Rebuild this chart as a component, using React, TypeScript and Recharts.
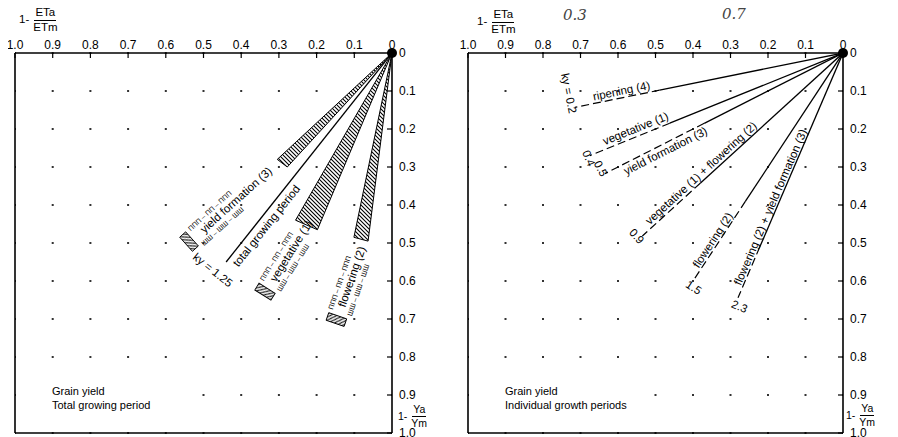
import React from 'react';
import {
  ComposedChart, XAxis, YAxis, CartesianGrid, Line, Scatter, ReferenceDot, ReferenceArea,
} from 'recharts';

const FONT = '"Liberation Sans", Arial, sans-serif';

// both panels: 1 - ETa/ETm (x) and 1 - Ya/Ym (y), 0 .. 1
const axisTicks = [0, 0.1, 0.2, 0.3, 0.4, 0.5, 0.6, 0.7, 0.8, 0.9, 1.0];

// left panel - total growing period line
const totalKy = 1.25;
const totalEndX = 0.44;

// left panel - hatched wedges (range of ky for each period)
const wedgeNames = ['yield formation (3)', 'vegetative (1)', 'flowering (2)'];
const wedgeKyLow = [0.92, 1.72, 4.8];
const wedgeKyHigh = [1.08, 2.35, 7.8];
const wedgeEndYLow = [0.28, 0.44, 0.485];
const wedgeEndYHigh = [0.3, 0.465, 0.495];

// right panel - individual growth periods
const periodNames = [
  'ripening (4)',
  'vegetative (1)',
  'yield formation (3)',
  'vegetative (1) + flowering (2)',
  'flowering (2)',
  'flowering (2) + yield formation (3)',
];
const periodKy = [0.2, 0.4, 0.5, 0.9, 1.5, 2.3];
const periodKyText = ['ky = 0.2', '0.4', '0.5', '0.9', '1.5', '2.3'];
const periodSolidToX = [0.489, 0.462, 0.37, 0.38, 0.26, 0.222];
const periodEndX = [0.715, 0.675, 0.635, 0.535, 0.4, 0.28];

// label placement (data units / px offsets)
const wedgeLabelAt = [
  { x: 0.414, y: 0.387, angle: 42 },
  { x: 0.268, y: 0.521, angle: 58 },
  { x: 0.107, y: 0.589, angle: 71 },
];
const totalLabelAtX = 0.352;
const totalKyLabelAt = { x: 0.475, y: 0.571 };
const periodLabelAtX = [0.587, 0.545, 0.482, 0.366, 0.334, 0.179];
const periodLabelOff = [-7, -8, 7, -7, -6, -6];
const periodKyLabelAt = [
  { x: 0.731, y: 0.106 },
  { x: 0.678, y: 0.277 },
  { x: 0.646, y: 0.304 },
  { x: 0.55, y: 0.482 },
  { x: 0.398, y: 0.617 },
  { x: 0.276, y: 0.667 },
];

const W = 449;
const H = 437;
const TOP = 53;
const BOTTOM = 433;
const PH = BOTTOM - TOP;
const L_LEFT = 15, L_RIGHT = 392;
const R_LEFT = 19, R_RIGHT = 394;

const deg = (ky: number, pw: number) => (Math.atan((ky * PH) / pw) * 180) / Math.PI;
const fmt = (v: number) => (v === 0 ? '0' : v.toFixed(1));

const NoDot = () => <g />;

// the scatter "line" gets the points in pixels -> draw them as a closed hatched wedge
const WedgePoly = (p: any) => {
  const pts = (p.points || []).map((q: any) => `${q.x},${q.y}`).join(' ');
  return <polygon points={pts} fill="url(#hatchL)" stroke="#000" strokeWidth={1} strokeLinejoin="round" />;
};

const AlongLabel = (p: any) => {
  const { cx, cy, payload } = p;
  if (cx == null || cy == null) return null;
  return (
    <text
      transform={`translate(${cx},${cy}) rotate(${payload.rot})`}
      x={0}
      y={payload.off}
      textAnchor="middle"
      dominantBaseline="central"
      fontSize={payload.fs || 11.5}
      fontFamily={FONT}
      fill="#000"
    >
      {payload.text}
    </text>
  );
};

const WedgeLabel = (p: any) => {
  const { cx, cy, payload } = p;
  if (cx == null || cy == null) return null;
  const fs = 11.5;
  const w = payload.text.length * fs * 0.5;
  return (
    <g transform={`translate(${cx},${cy}) rotate(${-payload.angle})`} fontFamily={FONT} fill="#000">
      <rect x={-w / 2 - 12} y={-10} width={8} height={19} fill="url(#hatchL)" stroke="#000" strokeWidth={0.9} />
      <text x={0} y={0} textAnchor="middle" dominantBaseline="central" fontSize={fs}>
        {payload.text}
      </text>
      <text x={-w / 2} y={-7} fontSize={7}>ΠΠΠ – ΠΠ – ΠΠΠ</text>
      <text x={-w / 2} y={13} fontSize={7}>ШШ – ШШ – ШШ</text>
    </g>
  );
};

function Panel(props: { left: number; right: number; pid: string; children: React.ReactNode }) {
  const { left, right, pid, children } = props;
  const step = (right - left) / 10;
  return (
    <ComposedChart
      width={W}
      height={H}
      margin={{ top: TOP - 20, left: left - 1, right: W - right - 40, bottom: H - BOTTOM - 1 }}
    >
      <defs>
        <pattern id={pid} width={4} height={4} patternUnits="userSpaceOnUse">
          <rect width={4} height={4} fill="#fff" />
          <path d="M-1,3 L1,5 M0,0 L4,4 M3,-1 L5,1" stroke="#000" strokeWidth={1.1} />
        </pattern>
      </defs>
      <CartesianGrid
        vertical={false}
        stroke="#333"
        strokeWidth={2}
        strokeDasharray={`2 ${step - 2}`}
        strokeDashoffset={1}
      />
      <XAxis
        dataKey="x"
        type="number"
        domain={[0, 1]}
        reversed
        ticks={axisTicks}
        interval={0}
        orientation="top"
        height={20}
        tickSize={-5}
        tickMargin={9}
        tickFormatter={fmt}
        stroke="#000"
        axisLine={{ stroke: '#000', strokeWidth: 1.6 }}
        tickLine={{ stroke: '#000', strokeWidth: 1.2 }}
        tick={{ fontSize: 12, fill: '#000', fontFamily: FONT }}
        allowDataOverflow
      />
      <XAxis
        xAxisId="b"
        type="number"
        domain={[0, 1]}
        reversed
        ticks={axisTicks}
        interval={0}
        orientation="bottom"
        height={1}
        tickSize={-5}
        tick={false}
        stroke="#000"
        axisLine={{ stroke: '#000', strokeWidth: 1.6 }}
        tickLine={{ stroke: '#000', strokeWidth: 1.2 }}
      />
      <YAxis
        dataKey="y"
        type="number"
        domain={[0, 1]}
        reversed
        ticks={axisTicks}
        interval={0}
        orientation="right"
        width={40}
        tickSize={-5}
        tickMargin={12}
        tickFormatter={fmt}
        stroke="#000"
        axisLine={{ stroke: '#000', strokeWidth: 1.6 }}
        tickLine={{ stroke: '#000', strokeWidth: 1.2 }}
        tick={{ fontSize: 12, fill: '#000', fontFamily: FONT }}
        allowDataOverflow
      />
      <YAxis
        yAxisId="l"
        type="number"
        domain={[0, 1]}
        reversed
        ticks={axisTicks}
        interval={0}
        orientation="left"
        width={1}
        tickSize={-5}
        tick={false}
        stroke="#000"
        axisLine={{ stroke: '#000', strokeWidth: 1.6 }}
        tickLine={{ stroke: '#000', strokeWidth: 1.2 }}
      />
      <ReferenceArea x1={0.97} x2={0.55} y1={0.86} y2={0.96} fill="#fff" fillOpacity={1} stroke="none" />
      {children}
      <ReferenceDot x={0} y={0} r={5} fill="#000" stroke="none" ifOverflow="visible" />
    </ComposedChart>
  );
}

const Frac = (p: { num: string; den: string; left: number; top: number; fs?: number }) => (
  <div
    style={{
      position: 'absolute', left: p.left, top: p.top, display: 'flex', alignItems: 'center',
      fontFamily: FONT, fontSize: p.fs || 11, color: '#000', lineHeight: 1,
    }}
  >
    <span style={{ marginRight: 4 }}>1-</span>
    <span style={{ display: 'inline-flex', flexDirection: 'column', alignItems: 'center' }}>
      <span style={{ borderBottom: '1.3px solid #000', padding: '0 1px 1px' }}>{p.num}</span>
      <span style={{ paddingTop: 1 }}>{p.den}</span>
    </span>
  </div>
);

const Caption = (p: { lines: string[]; left: number; top: number }) => (
  <div style={{ position: 'absolute', left: p.left, top: p.top, fontFamily: FONT, fontSize: 11, color: '#000', lineHeight: '14px' }}>
    {p.lines.map((l) => (
      <div key={l}>{l}</div>
    ))}
  </div>
);

export default function App() {
  const lpw = L_RIGHT - L_LEFT;
  const rpw = R_RIGHT - R_LEFT;

  // left panel series
  const totalLine = [{ x: 0, y: 0 }, { x: totalEndX, y: totalKy * totalEndX }];
  const wedges = wedgeNames.map((_, i) => {
    const xa = wedgeEndYLow[i] / wedgeKyLow[i];
    const xb = wedgeEndYHigh[i] / wedgeKyHigh[i];
    return [
      { x: 0, y: 0 },
      { x: xb, y: wedgeKyHigh[i] * xb },
      { x: xa, y: wedgeKyLow[i] * xa },
    ];
  });
  const wedgeLabels = wedgeNames.map((n, i) => ({ ...wedgeLabelAt[i], text: n }));
  const totalLabels = [
    {
      x: totalLabelAtX, y: totalKy * totalLabelAtX, text: 'total growing period',
      rot: -deg(totalKy, lpw), off: 9, fs: 11.5,
    },
    { ...totalKyLabelAt, text: 'ky = 1.25', rot: 90 - deg(totalKy, lpw), off: 0, fs: 11.5 },
  ];

  // right panel series
  const solidLines = periodKy.map((k, i) => [{ x: 0, y: 0 }, { x: periodSolidToX[i], y: k * periodSolidToX[i] }]);
  const dashLines = periodKy.map((k, i) => [
    { x: periodSolidToX[i], y: k * periodSolidToX[i] },
    { x: periodEndX[i], y: k * periodEndX[i] },
  ]);
  const periodLabels = periodNames.map((n, i) => ({
    x: periodLabelAtX[i], y: periodKy[i] * periodLabelAtX[i], text: n,
    rot: -deg(periodKy[i], rpw), off: periodLabelOff[i], fs: 11.5,
  }));
  const kyLabels = periodKyText.map((t, i) => ({
    ...periodKyLabelAt[i], text: t, rot: 90 - deg(periodKy[i], rpw), off: 0, fs: 11.5,
  }));

  return (
    <div style={{ position: 'relative', width: 898, height: 437, margin: '-8px 0 0 -8px', background: '#fff', overflow: 'hidden' }}>
      <div style={{ position: 'absolute', left: 0, top: 0 }}>
        <Panel left={L_LEFT} right={L_RIGHT} pid="hatchL">
          {wedges.map((d, i) => (
            <Scatter
              key={wedgeNames[i]}
              data={d}
              dataKey="y"
              line={WedgePoly}
              lineType="joint"
              shape={NoDot}
              isAnimationActive={false}
            />
          ))}
          <Line data={totalLine} dataKey="y" type="linear" stroke="#000" strokeWidth={1.3} dot={false} activeDot={false} isAnimationActive={false} />
          <Scatter data={wedgeLabels} dataKey="y" shape={WedgeLabel} isAnimationActive={false} />
          <Scatter data={totalLabels} dataKey="y" shape={AlongLabel} isAnimationActive={false} />
        </Panel>
      </div>
      <div style={{ position: 'absolute', left: W, top: 0 }}>
        <Panel left={R_LEFT} right={R_RIGHT} pid="hatchR">
          {solidLines.map((d, i) => (
            <Line key={'s' + i} data={d} dataKey="y" type="linear" stroke="#000" strokeWidth={1.3} dot={false} activeDot={false} isAnimationActive={false} />
          ))}
          {dashLines.map((d, i) => (
            <Line key={'d' + i} data={d} dataKey="y" type="linear" stroke="#000" strokeWidth={1.2} strokeDasharray="8 4" dot={false} activeDot={false} isAnimationActive={false} />
          ))}
          <Scatter data={periodLabels} dataKey="y" shape={AlongLabel} isAnimationActive={false} />
          <Scatter data={kyLabels} dataKey="y" shape={AlongLabel} isAnimationActive={false} />
        </Panel>
      </div>

      <Frac num="ETa" den="ETm" left={19} top={7} fs={11.5} />
      <Frac num="ETa" den="ETm" left={477} top={9} fs={11.5} />
      <Frac num="Ya" den="Ym" left={398} top={404} fs={10.5} />
      <Frac num="Ya" den="Ym" left={846} top={403} fs={10.5} />

      <div style={{ position: 'absolute', left: 563, top: 6, fontFamily: '"DejaVu Serif", serif', fontStyle: 'italic', fontSize: 15, color: '#444' }}>0.3</div>
      <div style={{ position: 'absolute', left: 722, top: 5, fontFamily: '"DejaVu Serif", serif', fontStyle: 'italic', fontSize: 15, color: '#444' }}>0.7</div>

      <Caption lines={['Grain yield', 'Total growing period']} left={52} top={384} />
      <Caption lines={['Grain yield', 'Individual growth periods']} left={505} top={384} />
    </div>
  );
}
